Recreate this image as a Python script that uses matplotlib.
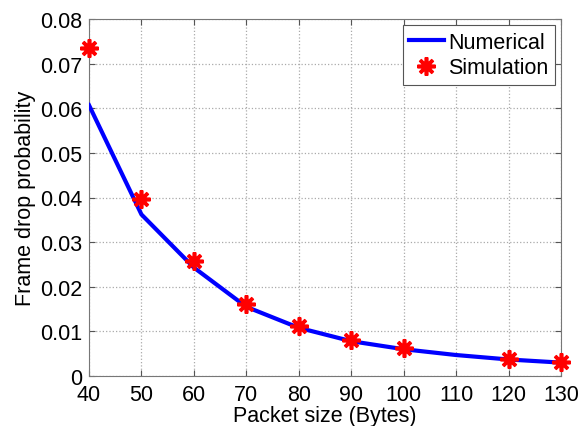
import matplotlib.pyplot as plt

plt.rcParams['font.family'] = ['Liberation Sans', 'DejaVu Sans']

# numerical curve
packet_num = [40, 50, 60, 70, 80, 90, 100, 110, 120, 130]
prob_num = [0.0607, 0.0362, 0.0243, 0.0155, 0.0108, 0.0078, 0.0060, 0.0047, 0.0037, 0.0030]

# simulation points
packet_sim = [40, 50, 60, 70, 80, 90, 100, 120, 130]
prob_sim = [0.0736, 0.0397, 0.0258, 0.0161, 0.0112, 0.0081, 0.0062, 0.0037, 0.0031]

xticks = [40, 50, 60, 70, 80, 90, 100, 110, 120, 130]
yticks = [0, 0.01, 0.02, 0.03, 0.04, 0.05, 0.06, 0.07, 0.08]

fig = plt.figure(figsize=(5.79, 4.27), dpi=100)
ax = fig.add_axes([89 / 579, 1 - 377 / 427, (561 - 89) / 579, (377 - 20) / 427])

ax.plot(packet_num, prob_num, color='#0000ff', lw=3, label='Numerical', zorder=3)
ax.plot(packet_sim, prob_sim, ls='none', marker=(8, 2, 0), ms=13, mew=2.6,
        color='red', mec='red', label='Simulation', zorder=4, clip_on=False)

ax.set_xlim(40, 130)
ax.set_ylim(0, 0.08)
ax.set_xticks(xticks)
ax.set_yticks(yticks)
ax.set_yticklabels(['0', '0.01', '0.02', '0.03', '0.04', '0.05', '0.06', '0.07', '0.08'])
ax.tick_params(direction='in', labelsize=15.5, length=4, color='#555555', top=True, right=True)
ax.tick_params(axis='x', pad=6)
ax.tick_params(axis='y', pad=5)
ax.grid(True, ls=':', color='#aaaaaa', lw=0.9)
for s in ax.spines.values():
    s.set_color('#777777')

ax.set_xlabel('Packet size (Bytes)', fontsize=15.5, labelpad=0)
ax.set_ylabel('Frame drop probability', fontsize=15.5, labelpad=3)

leg = ax.legend(loc='upper right', fontsize=15.5, fancybox=False, framealpha=1,
                edgecolor='#555555', handlelength=1.6, handletextpad=0.2,
                borderpad=0.3, labelspacing=0.2, borderaxespad=0.3)
leg.get_frame().set_linewidth(0.8)

fig.savefig('out.png', dpi=100)
